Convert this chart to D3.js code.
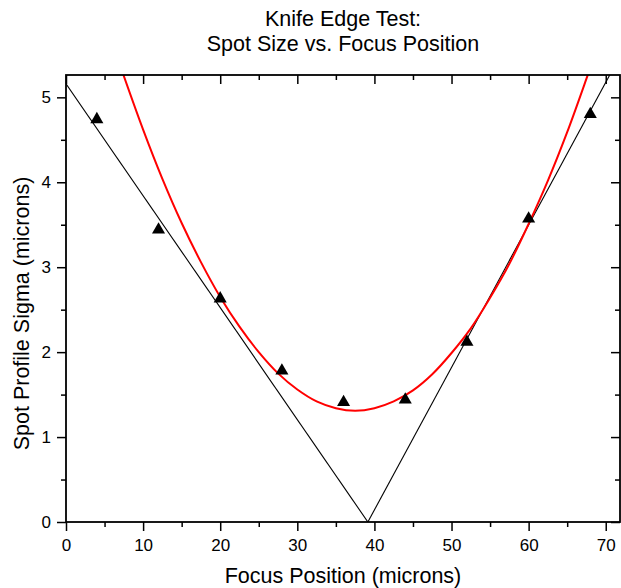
<!DOCTYPE html>
<html>
<head>
<meta charset="utf-8">
<script src="https://cdn.jsdelivr.net/npm/d3@7/dist/d3.min.js"></script>
<style>
  html, body { margin: 0; padding: 0; background: #fff; }
  svg { display: block; font-family: "Liberation Sans", Arial, sans-serif; }
</style>
</head>
<body>
<svg id="chart" width="621" height="588"></svg>
<script>
// Measured spot sigma at each knife-edge focus position (microns)
const focusPositions = [4, 12, 20, 28, 36, 44, 52, 60, 68];
const spotSigma = [4.74, 3.44, 2.63, 1.78, 1.41, 1.44, 2.12, 3.57, 4.80];

// Quadratic fit curve, sampled along focus position
const fitX = [7, 10, 12.5, 15, 17.5, 20, 22.5, 25, 27.5, 30, 32.5, 35, 37.5,
              40, 42.5, 45, 47.5, 50, 52.5, 55, 57.5, 60, 62.5, 65, 67.5, 68];
const fitY = [5.38, 4.62, 4.04, 3.52, 3.06, 2.65, 2.30, 2.00, 1.75, 1.56, 1.42, 1.34, 1.31,
              1.34, 1.42, 1.55, 1.74, 1.99, 2.28, 2.64, 3.04, 3.51, 4.02, 4.59, 5.22, 5.35];

// Linear fits of the two sides of the focus (endpoints in data units)
const leftLineX = [0, 39.15];
const leftLineY = [5.16, 0];
const rightLineX = [39.15, 70.56];
const rightLineY = [0, 5.27];

const xTicks = [0, 10, 20, 30, 40, 50, 60, 70];
const yTicks = [0, 1, 2, 3, 4, 5];
const xMinorTicks = [5, 15, 25, 35, 45, 55, 65];
const yMinorTicks = [0.5, 1.5, 2.5, 3.5, 4.5];

const titleLines = ["Knife Edge Test:", "Spot Size vs. Focus Position"];
const xLabel = "Focus Position (microns)";
const yLabel = "Spot Profile Sigma (microns)";

const W = 621, H = 588;
const margin = { top: 75, right: 1, bottom: 66, left: 66 };
const iw = W - margin.left - margin.right;
const ih = H - margin.top - margin.bottom;
const cx = margin.left + iw / 2;

const svg = d3.select("#chart");
const g = svg.append("g").attr("transform", `translate(${margin.left},${margin.top})`);

const x = d3.scaleLinear().domain([0, 71.85]).range([0, iw]);
const y = d3.scaleLinear().domain([0, 5.263]).range([ih, 0]);

g.append("clipPath").attr("id", "plotClip")
  .append("rect").attr("width", iw).attr("height", ih);

const plot = g.append("g").attr("clip-path", "url(#plotClip)");

const line = d3.line().x(d => x(d[0])).y(d => y(d[1]));

plot.append("path")
  .datum(d3.zip(leftLineX, leftLineY))
  .attr("d", line).attr("fill", "none").attr("stroke", "#000").attr("stroke-width", 1.1);
plot.append("path")
  .datum(d3.zip(rightLineX, rightLineY))
  .attr("d", line).attr("fill", "none").attr("stroke", "#000").attr("stroke-width", 1.1);

plot.append("path")
  .datum(d3.zip(fitX, fitY))
  .attr("d", line.curve(d3.curveCatmullRom))
  .attr("fill", "none").attr("stroke", "#ff0000").attr("stroke-width", 2);

const tri = d3.symbol().type(d3.symbolTriangle).size(74);
g.append("g").selectAll("path")
  .data(d3.zip(focusPositions, spotSigma))
  .join("path")
  .attr("d", tri)
  .attr("transform", d => `translate(${x(d[0])},${y(d[1])})`)
  .attr("fill", "#000");

// Axes: outer ticks on bottom/left, inner ticks on top/right
const major = 9, minor = 5;
function styleAxis(sel) {
  sel.select(".domain").remove();
  sel.selectAll("line").attr("stroke", "#000").attr("stroke-width", 1.5);
  sel.selectAll("text").attr("font-size", 17).attr("fill", "#000")
     .attr("font-family", "'Liberation Sans', Arial, sans-serif");
}

g.append("g").attr("transform", `translate(0,${ih})`)
  .call(d3.axisBottom(x).tickValues(xTicks).tickSize(major).tickPadding(8).tickFormat(d3.format("d")))
  .call(styleAxis);
g.append("g").attr("transform", `translate(0,${ih})`)
  .call(d3.axisBottom(x).tickValues(xMinorTicks).tickSize(minor).tickFormat(""))
  .call(styleAxis);
g.append("g")
  .call(d3.axisLeft(y).tickValues(yTicks).tickSize(major).tickPadding(6).tickFormat(d3.format("d")))
  .call(styleAxis);
g.append("g")
  .call(d3.axisLeft(y).tickValues(yMinorTicks).tickSize(minor).tickFormat(""))
  .call(styleAxis);
g.append("g")
  .call(d3.axisTop(x).tickValues(xTicks).tickSize(-major).tickFormat(""))
  .call(styleAxis);
g.append("g")
  .call(d3.axisTop(x).tickValues(xMinorTicks).tickSize(-minor).tickFormat(""))
  .call(styleAxis);
g.append("g").attr("transform", `translate(${iw},0)`)
  .call(d3.axisRight(y).tickValues(yTicks).tickSize(-major).tickFormat(""))
  .call(styleAxis);
g.append("g").attr("transform", `translate(${iw},0)`)
  .call(d3.axisRight(y).tickValues(yMinorTicks).tickSize(-minor).tickFormat(""))
  .call(styleAxis);

// Frame
g.append("rect").attr("width", iw).attr("height", ih)
  .attr("fill", "none").attr("stroke", "#000").attr("stroke-width", 1.8);

// Titles
svg.append("g").selectAll("text").data(titleLines).join("text")
  .attr("x", cx)
  .attr("y", (d, i) => 25.5 + i * 25.5)
  .attr("text-anchor", "middle").attr("font-size", 21.5).attr("fill", "#000")
  .text(d => d);

svg.append("text")
  .attr("x", cx).attr("y", 583)
  .attr("text-anchor", "middle").attr("font-size", 21.5).attr("fill", "#000")
  .text(xLabel);

svg.append("text")
  .attr("transform", `translate(29,${margin.top + ih / 2 + 15}) rotate(-90)`)
  .attr("text-anchor", "middle").attr("font-size", 21.5).attr("fill", "#000")
  .text(yLabel);
</script>
</body>
</html>
